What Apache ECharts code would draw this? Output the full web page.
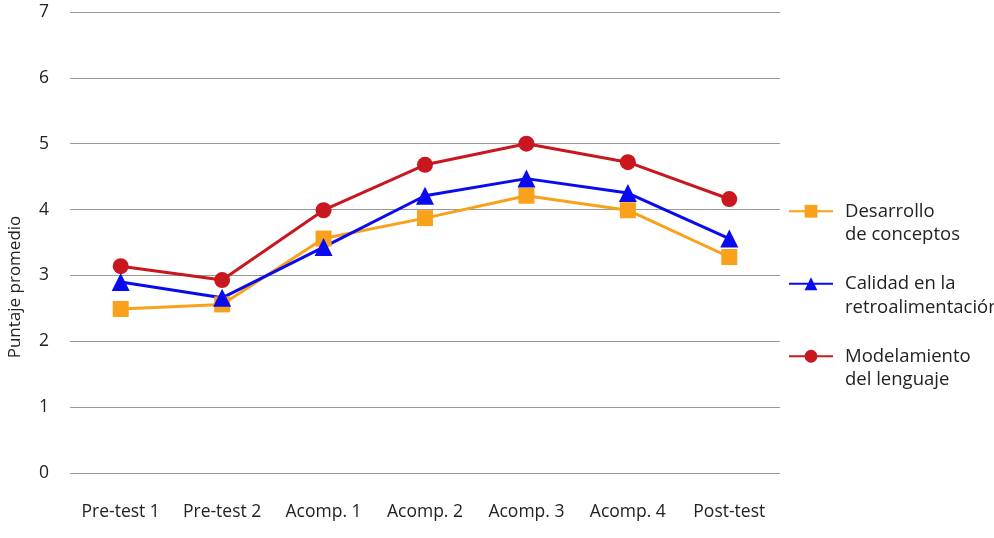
<!DOCTYPE html>
<html>
<head>
<meta charset="utf-8">
<script src="https://cdn.jsdelivr.net/npm/echarts@6/dist/echarts.min.js"></script>
<style>
html,body{margin:0;padding:0;background:#fff;}
#chart{width:994px;height:538px;}
</style>
</head>
<body>
<div id="chart"></div>
<script>
const categories = ['Pre-test 1', 'Pre-test 2', 'Acomp. 1', 'Acomp. 2', 'Acomp. 3', 'Acomp. 4', 'Post-test'];
const desarrollo = [2.49, 2.56, 3.56, 3.87, 4.21, 3.99, 3.28];
const calidad = [2.90, 2.66, 3.43, 4.21, 4.47, 4.25, 3.56];
const modelamiento = [3.14, 2.93, 3.99, 4.68, 5.00, 4.72, 4.16];
const seriesNames = ['Desarrollo\nde conceptos', 'Calidad en la\nretroalimentación', 'Modelamiento\ndel lenguaje'];
const yTicks = [0, 1, 2, 3, 4, 5, 6, 7];
const yTitle = 'Puntaje promedio';

const FONT = 'Open Sans';
const chart = echarts.init(document.getElementById('chart'));
const mk = (name, data, color, symbol, size) => ({
  name, type: 'line', data, color,
  symbol, symbolSize: size,
  lineStyle: { width: 3, color },
  itemStyle: { color },
  z: 3
});
chart.setOption({
  animation: false,
  textStyle: { fontFamily: FONT },
  grid: { left: 70, right: 214, top: 12, bottom: 65, containLabel: false },
  legend: {
    orient: 'vertical',
    left: 788,
    top: 176,
    padding: 0,
    itemWidth: 44,
    itemHeight: 16,
    itemGap: 2,
    data: seriesNames,
    formatter: n => '\n' + n,
    textStyle: { fontFamily: FONT, fontSize: 18.5, color: '#222', lineHeight: 23.5, padding: [0, 0, 0, 7] }
  },
  xAxis: {
    type: 'category',
    data: categories,
    boundaryGap: true,
    axisLine: { show: false },
    axisTick: { show: false },
    axisLabel: { fontFamily: FONT, fontSize: 17.5, color: '#222', margin: 30, interval: 0, hideOverlap: false }
  },
  yAxis: {
    type: 'value',
    min: yTicks[0], max: yTicks[yTicks.length - 1], interval: 1,
    axisLine: { show: false },
    axisTick: { show: false },
    axisLabel: { fontFamily: FONT, fontSize: 17.5, color: '#222', margin: 21 },
    splitLine: { lineStyle: { color: '#999', width: 1.2 } }
  },
  graphic: [{
    type: 'text', x: 15, y: 287, rotation: Math.PI / 2,
    style: { text: yTitle, fontFamily: FONT, fontSize: 17, fill: '#222', align: 'center', verticalAlign: 'middle' }
  }],
  series: [
    mk(seriesNames[0], desarrollo, '#F9A11B', 'rect', 16),
    mk(seriesNames[1], calidad, '#0A0AF0', 'triangle', 18),
    mk(seriesNames[2], modelamiento, '#C8171E', 'circle', 16)
  ]
});
</script>
</body>
</html>
